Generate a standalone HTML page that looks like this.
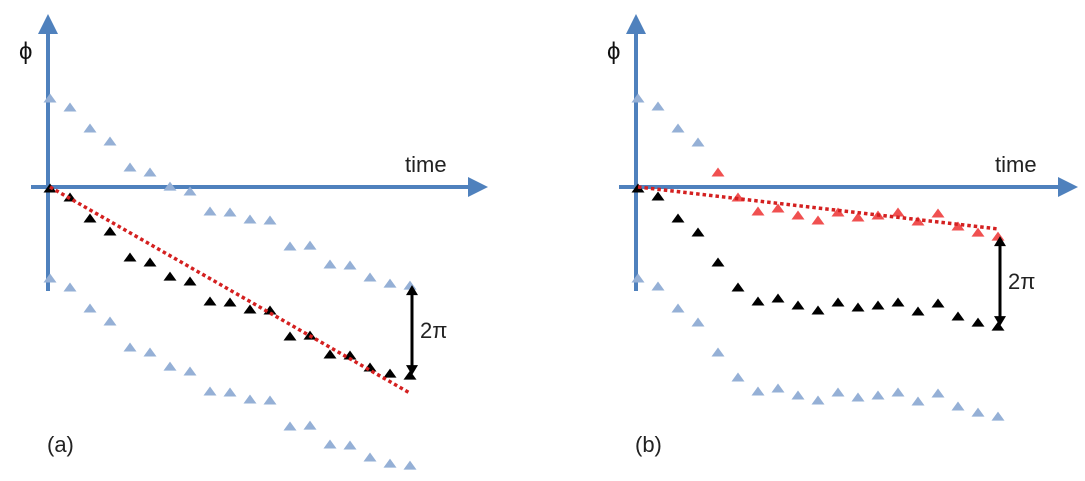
<!DOCTYPE html>
<html><head><meta charset="utf-8">
<style>
html,body{margin:0;padding:0;background:#fff;}
svg{display:block;font-family:"Liberation Sans","DejaVu Sans",sans-serif;}
</style></head>
<body>
<svg id="fig" width="1085" height="481" viewBox="0 0 1085 481" xmlns="http://www.w3.org/2000/svg">
<defs>
<marker id="ah" markerWidth="5" markerHeight="5" refX="2.5" refY="2.5" orient="auto" markerUnits="strokeWidth"><path d="M0,0 L5,2.5 L0,5 Z" fill="#4F81BD"/></marker>
</defs>
</svg>
<script>
// sample index (time) for both panels
const timeSteps = [0,1,2,3,4,5,6,7,8,9,10,11,12,13,14,15,16,17,18];
// panel (a): measured phase (radians)
const phaseA = [-0.07,-0.70,-2.16,-3.07,-4.89,-5.24,-6.22,-6.56,-7.96,-8.03,-8.52,-8.59,-10.40,-10.34,-11.66,-11.73,-12.57,-12.99,-13.13];
// panel (b): measured phase (radians)
const phaseB = [-0.07,-0.63,-2.16,-3.14,-5.24,-6.98,-7.96,-7.75,-8.24,-8.59,-8.03,-8.38,-8.24,-8.03,-8.66,-8.10,-9.01,-9.43,-9.71];
// index from which the red unwrapped copy (+2π) is shown (panel a: none)
const unwrapStartA = 19;
const unwrapStartB = 4;
// fitted trend lines: [start phase, end phase]
const fitA = [0, -14.39];
const fitB = [0, -2.93];
const TWO_PI = 2*Math.PI;

const NS = "http://www.w3.org/2000/svg";
const svg = document.getElementById('fig');
function mk(tag, attrs, parent){
  const e = document.createElementNS(NS, tag);
  for (const k in attrs) e.setAttribute(k, attrs[k]);
  (parent||svg).appendChild(e);
  return e;
}
const pxPerRad = 90/TWO_PI;
function panel(ox, oy){ return { x: t => ox + 20*t, y: v => oy - v*pxPerRad }; }
function tri(g, cx, cy, fill){
  return mk('path', {d:`M${cx-6.5},${cy+4.5} L${cx},${cy-4.5} L${cx+6.5},${cy+4.5} Z`, fill:fill}, g);
}

function drawAxes(ox, oy, xEnd, key, label){
  const g = mk('g', {});
  
  
  const xa = mk('line', {x1:ox-19, y1:oy, x2:xEnd, y2:oy, stroke:'#4F81BD', 'stroke-width':4, 'marker-end':'url(#ah)'}, g);
  
  
  const ya = mk('line', {x1:ox-2, y1:oy+104, x2:ox-2, y2:24, stroke:'#4F81BD', 'stroke-width':4, 'marker-end':'url(#ah)'}, g);
  
  
  const phi = mk('text', {x:ox-31, y:59, 'font-size':24, fill:'#111'}, g);
  phi.textContent = 'ϕ';
  
  
  const tm = mk('text', {x:xEnd-73, y:172, 'font-size':22, fill:'#222'}, g);
  tm.textContent = 'time';
  
  
  const pl = mk('text', {x:ox-3, y:452, 'font-size':22, fill:'#222'}, g);
  pl.textContent = label;
  
  
}

function drawPanel(key, ox, oy, xEnd, label, phase, redStart, fit){
  const s = panel(ox, oy);
  drawAxes(ox, oy, xEnd, key, label);
  const blue = mk('g', {});
  
  
  timeSteps.forEach((t,i)=>{
    if (i < redStart) {
      const a = tri(blue, s.x(t), s.y(phase[i]+TWO_PI), '#95B0D6');
      
      
    }
    const b = tri(blue, s.x(t), s.y(phase[i]-TWO_PI), '#95B0D6');
    
    
  });
  const blk = mk('g', {});
  
  
  timeSteps.forEach((t,i)=>{
    const p = tri(blk, s.x(t), s.y(phase[i]), '#000');
    
    
  });
  const red = mk('g', {});
  
  
  timeSteps.forEach((t,i)=>{
    if (i >= redStart) {
      const p = tri(red, s.x(t), s.y(phase[i]+TWO_PI), '#F05050');
      
      
    }
  });
  const n = timeSteps.length-1;
  const fl = mk('line', {x1:s.x(0), y1:s.y(fit[0]), x2:s.x(timeSteps[n]), y2:s.y(fit[1]), stroke:'#D42020', 'stroke-width':3.5, 'stroke-dasharray':'3.5 3'});
  
  
  const ax = s.x(timeSteps[n]) + 2;
  const yTop = s.y(phase[n]+TWO_PI), yBot = s.y(phase[n]);
  const ag = mk('g', {});
  
  
  mk('line', {x1:ax, y1:yTop+8, x2:ax, y2:yBot-8, stroke:'#000', 'stroke-width':3}, ag);
  mk('path', {d:`M${ax-6},${yTop+10} L${ax},${yTop} L${ax+6},${yTop+10} Z`, fill:'#000'}, ag);
  mk('path', {d:`M${ax-6},${yBot-10} L${ax},${yBot} L${ax+6},${yBot-10} Z`, fill:'#000'}, ag);
  const tp = mk('text', {x:ax+8, y:(yTop+yBot)/2+8, 'font-size':22, fill:'#222'}, ag);
  tp.textContent = '2π';
  
  
}

drawPanel('panel-a', 50, 187, 478, '(a)', phaseA, unwrapStartA, fitA);
drawPanel('panel-b', 638, 187, 1068, '(b)', phaseB, unwrapStartB, fitB);
</script>
</body></html>
